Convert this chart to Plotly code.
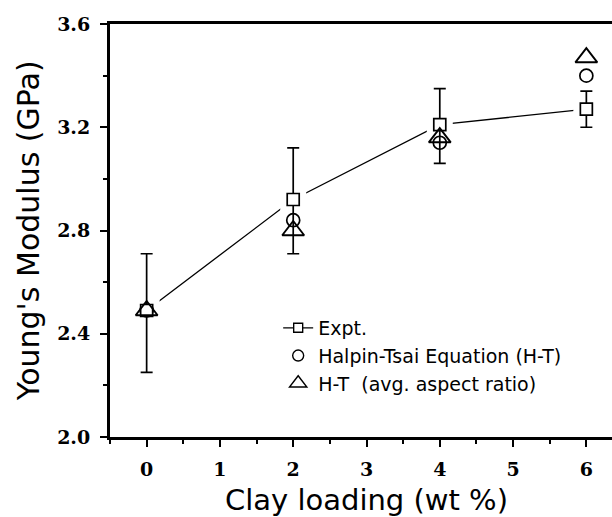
import plotly.graph_objects as go

# ---- data ----
clay = [0, 2, 4, 6]
expt = [2.49, 2.92, 3.21, 3.27]
expt_err_plus = [0.22, 0.20, 0.14, 0.07]
expt_err_minus = [0.24, 0.21, 0.15, 0.07]
ht = [2.49, 2.84, 3.14, 3.40]
ht_avg = [2.49, 2.80, 3.16, 3.47]

x_ticks = [0, 1, 2, 3, 4, 5, 6]
y_ticks = [2.0, 2.4, 2.8, 3.2, 3.6]
y_labels = ["2.0", "2.4", "2.8", "3.2", "3.6"]

names = ["Expt.", "Halpin-Tsai Equation (H-T)", "H-T  (avg. aspect ratio)"]

BLACK = "black"
tick_font = dict(family="DejaVu Serif", size=19, color=BLACK, weight="bold")
sans = "DejaVu Sans"

fig = go.Figure()

# connecting line of experimental data
fig.add_trace(go.Scatter(x=clay, y=expt, mode="lines",
                         line=dict(color=BLACK, width=1.3),
                         showlegend=False, hoverinfo="skip"))
# white halo so the line stops short of the markers
fig.add_trace(go.Scatter(x=clay, y=expt, mode="markers",
                         marker=dict(symbol="square", size=26, color="white",
                                     line=dict(width=0)),
                         showlegend=False, hoverinfo="skip"))
# Halpin-Tsai
fig.add_trace(go.Scatter(x=clay, y=ht, mode="markers",
                         marker=dict(symbol="circle-open", size=13, color=BLACK,
                                     line=dict(width=1.7, color=BLACK)),
                         showlegend=False))
# Experimental markers with error bars
fig.add_trace(go.Scatter(x=clay, y=expt, mode="markers",
                         marker=dict(symbol="square", size=12, color="white",
                                     line=dict(width=1.7, color=BLACK)),
                         error_y=dict(type="data", array=expt_err_plus,
                                      arrayminus=expt_err_minus, color=BLACK,
                                      thickness=1.7, width=6),
                         showlegend=False))
# H-T avg aspect ratio
fig.add_trace(go.Scatter(x=clay, y=ht_avg, mode="markers",
                         marker=dict(symbol="triangle-up-open", size=19, color=BLACK,
                                     line=dict(width=1.9, color=BLACK)),
                         showlegend=False))

# legend entries
fig.add_trace(go.Scatter(x=[None], y=[None], mode="lines+markers", name=names[0],
                         line=dict(color=BLACK, width=1.3),
                         marker=dict(symbol="square", size=9, color="white",
                                     line=dict(width=1.4, color=BLACK))))
fig.add_trace(go.Scatter(x=[None], y=[None], mode="markers", name=names[1],
                         marker=dict(symbol="circle-open", size=11, color=BLACK,
                                     line=dict(width=1.4, color=BLACK))))
fig.add_trace(go.Scatter(x=[None], y=[None], mode="markers", name=names[2],
                         marker=dict(symbol="triangle-up-open", size=15, color=BLACK,
                                     line=dict(width=1.4, color=BLACK))))

fig.update_layout(
    width=612, height=517,
    margin=dict(l=110, r=0, t=24, b=80),
    paper_bgcolor="white", plot_bgcolor="white",
    showlegend=True,
    legend=dict(x=0.335, y=0.31, xanchor="left", yanchor="top",
                bgcolor="rgba(0,0,0,0)", borderwidth=0,
                font=dict(family=sans, size=19, color=BLACK),
                tracegroupgap=0),
    xaxis=dict(range=[-0.5, 6.35], showgrid=False, zeroline=False,
               showline=True, linewidth=3, linecolor=BLACK, mirror=True,
               tickmode="array", tickvals=x_ticks, ticktext=[str(v) for v in x_ticks],
               ticks="outside", ticklen=7, tickwidth=2, tickcolor=BLACK,
               ticklabelstandoff=6, tickfont=tick_font,
               minor=dict(dtick=0.5, ticks="outside", ticklen=4, tickwidth=2,
                          tickcolor=BLACK, showgrid=False)),
    yaxis=dict(range=[2.0, 3.6], showgrid=False, zeroline=False,
               showline=True, linewidth=3, linecolor=BLACK, mirror=False,
               tickmode="array", tickvals=y_ticks, ticktext=y_labels,
               ticks="outside", ticklen=7, tickwidth=2, tickcolor=BLACK,
               ticklabelstandoff=6, tickfont=tick_font,
               minor=dict(dtick=0.2, ticks="outside", ticklen=4, tickwidth=2,
                          tickcolor=BLACK, showgrid=False)),
    annotations=[
        dict(text="Clay loading (wt %)", x=3, xref="x", y=-0.152, yref="paper",
             xanchor="center", yanchor="middle", showarrow=False,
             font=dict(family=sans, size=29, color=BLACK)),
        dict(text="Young's Modulus (GPa)", x=-0.162, xref="paper", y=0.5, yref="paper",
             xanchor="center", yanchor="middle", showarrow=False, textangle=-90,
             font=dict(family=sans, size=30, color=BLACK)),
    ],
)

fig.write_html("out.html")
